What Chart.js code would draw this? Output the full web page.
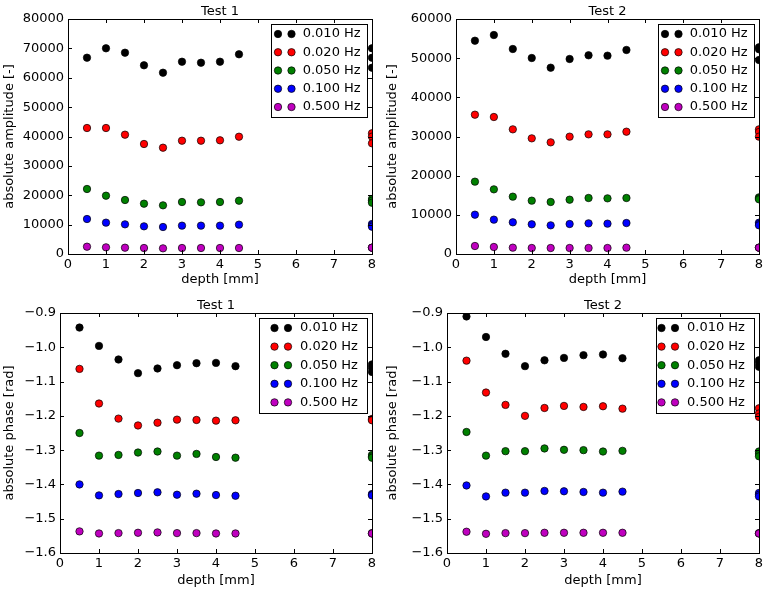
<!DOCTYPE html>
<html><head><meta charset="utf-8">
<script src="https://cdn.jsdelivr.net/npm/chart.js@4/dist/chart.umd.min.js"></script>
<style>
html,body{margin:0;padding:0;background:#fff;width:770px;height:594px;overflow:hidden}
canvas{position:absolute;left:0;top:0}
</style></head>
<body>
<canvas id="c1" width="770" height="594"></canvas>
<canvas id="c2" width="770" height="594"></canvas>
<canvas id="c3" width="770" height="594"></canvas>
<canvas id="c4" width="770" height="594"></canvas>
<script>
// ---------- data ----------
const depths = [0.5, 1, 1.5, 2, 2.5, 3, 3.5, 4, 4.5, 8, 8, 8];
const freqLabels = ['0.010 Hz', '0.020 Hz', '0.050 Hz', '0.100 Hz', '0.500 Hz'];
const freqColors = ['#000000', '#ff0000', '#008000', '#0000ff', '#bf00bf'];

const xTicks = [0, 1, 2, 3, 4, 5, 6, 7, 8];
const ampTicks1 = [0, 10000, 20000, 30000, 40000, 50000, 60000, 70000, 80000];
const ampTicks2 = [0, 10000, 20000, 30000, 40000, 50000, 60000];
const phaseTicks = [-1.6, -1.5, -1.4, -1.3, -1.2, -1.1, -1.0, -0.9];

// amplitude, Test 1
const amp1_f010 = [66830, 70020, 68530, 64240, 61720, 65460, 65120, 65460, 67980, 70020, 66830, 63420];
const amp1_f020 = [42890, 42890, 40620, 37450, 36190, 38570, 38570, 38700, 39930, 41090, 39950, 37680];
const amp1_f050 = [22130, 19850, 18380, 17130, 16570, 17700, 17590, 17700, 18150, 18720, 18150, 17460];
const amp1_f100 = [11910, 10670, 10100, 9420, 9190, 9650, 9650, 9650, 9990, 10210, 9770, 9300];
const amp1_f500 = [2490, 2270, 2150, 2040, 1930, 2040, 2040, 2040, 2040, 2150, 2150, 2150];

// amplitude, Test 2
const amp2_f010 = [54460, 55910, 52340, 50040, 47570, 49790, 50730, 50640, 52090, 52770, 52260, 49530];
const amp2_f020 = [35570, 34980, 31830, 29530, 28510, 29960, 30550, 30550, 31230, 31830, 31150, 29960];
const amp2_f050 = [18470, 16510, 14640, 13620, 13280, 13870, 14300, 14210, 14300, 14470, 14200, 13960];
const amp2_f100 = [10040, 8770, 8090, 7580, 7320, 7660, 7830, 7750, 7910, 7990, 7660, 7320];
const amp2_f500 = [2040, 1790, 1620, 1530, 1530, 1530, 1530, 1530, 1620, 1620, 1620, 1620];

// phase, Test 1
const ph1_f010 = [-0.9425, -0.996, -1.0356, -1.0755, -1.0618, -1.0522, -1.0464, -1.0455, -1.0551, -1.050, -1.060, -1.072];
const ph1_f020 = [-1.063, -1.164, -1.208, -1.228, -1.220, -1.211, -1.212, -1.214, -1.213, -1.209, -1.211, -1.213];
const ph1_f050 = [-1.250, -1.316, -1.314, -1.307, -1.304, -1.316, -1.311, -1.320, -1.322, -1.314, -1.318, -1.322];
const ph1_f100 = [-1.400, -1.432, -1.428, -1.425, -1.423, -1.430, -1.427, -1.431, -1.433, -1.428, -1.430, -1.432];
const ph1_f500 = [-1.537, -1.543, -1.542, -1.541, -1.540, -1.542, -1.542, -1.543, -1.543, -1.542, -1.543, -1.543];

// phase, Test 2
const ph2_f010 = [-0.910, -0.970, -1.019, -1.055, -1.038, -1.031, -1.023, -1.021, -1.032, -1.038, -1.047, -1.057];
const ph2_f020 = [-1.039, -1.132, -1.168, -1.200, -1.177, -1.171, -1.174, -1.172, -1.179, -1.178, -1.193, -1.203];
const ph2_f050 = [-1.247, -1.316, -1.303, -1.303, -1.295, -1.299, -1.300, -1.304, -1.302, -1.304, -1.311, -1.318];
const ph2_f100 = [-1.403, -1.435, -1.424, -1.424, -1.419, -1.420, -1.422, -1.424, -1.421, -1.425, -1.430, -1.435];
const ph2_f500 = [-1.538, -1.544, -1.542, -1.542, -1.541, -1.541, -1.541, -1.541, -1.541, -1.542, -1.543, -1.543];

// ---------- rendering ----------
const FAM = "'DejaVu Sans', sans-serif";
const FONT = {family: FAM, size: 13, lineHeight: 1.2};
const fmtAmp = v => String(Math.round(v));
const fmtPhase = v => Number(v).toFixed(1).replace('-', '\u2212');

const mplPlugin = {
  id: 'mpl',
  afterDraw(chart, args, opts) {
    const ctx = chart.ctx, a = chart.chartArea;
    const xs = chart.scales.x, ys = chart.scales.y;
    const L = Math.round(a.left), T = Math.round(a.top), R = Math.round(a.right), B = Math.round(a.bottom);
    ctx.save();
    ctx.strokeStyle = '#000';
    ctx.lineWidth = 1;
    ctx.beginPath();
    xs.ticks.forEach(t => {
      const px = Math.round(xs.getPixelForValue(t.value)) + 0.5;
      ctx.moveTo(px, B); ctx.lineTo(px, B - 4);
      ctx.moveTo(px, T); ctx.lineTo(px, T + 4);
    });
    ys.ticks.forEach(t => {
      const py = Math.round(ys.getPixelForValue(t.value)) + 0.5;
      ctx.moveTo(L, py); ctx.lineTo(L + 4, py);
      ctx.moveTo(R, py); ctx.lineTo(R - 4, py);
    });
    ctx.stroke();
    ctx.strokeRect(L + 0.5, T + 0.5, R - L, B - T);

    // title
    ctx.fillStyle = '#000';
    ctx.font = '13px ' + FAM;
    ctx.textAlign = 'center';
    ctx.textBaseline = 'middle';
    ctx.fillText(opts.title, (a.left + a.right) / 2, a.top - 7.5);

    // legend (two markers per entry)
    const lg = opts.legend;
    const right = R - 5, top = T + 5;
    ctx.fillStyle = '#fff';
    ctx.fillRect(lg.left, top, right - lg.left, lg.h);
    ctx.strokeStyle = '#000';
    ctx.lineWidth = 1;
    ctx.strokeRect(Math.round(lg.left) + 0.5, top + 0.5, Math.round(right - lg.left), lg.h);
    chart.data.datasets.forEach((ds, i) => {
      const cy = top + 10 + i * lg.step;
      [lg.m1, lg.m2].forEach(off => {
        ctx.beginPath();
        ctx.arc(right + off, cy, 3.7, 0, Math.PI * 2);
        ctx.fillStyle = ds.backgroundColor;
        ctx.fill();
        ctx.lineWidth = 0.7;
        ctx.strokeStyle = '#000';
        ctx.stroke();
      });
      ctx.fillStyle = '#000';
      ctx.textAlign = 'left';
      ctx.textBaseline = 'middle';
      ctx.fillText(ds.label, right + lg.t, cy);
    });
    ctx.restore();
  }
};

function makeChart(id, p) {
  const datasets = p.series.map((vals, i) => ({
    label: freqLabels[i],
    data: depths.map((d, j) => ({x: d, y: vals[j]})),
    backgroundColor: freqColors[i],
    borderColor: '#000',
    borderWidth: 0.7,
    pointRadius: 3.7,
    pointHoverRadius: 3.7,
    showLine: false,
    clip: 0
  }));
  const yT = p.yTicks;
  return new Chart(document.getElementById(id), {
    type: 'scatter',
    data: {datasets},
    plugins: [mplPlugin],
    options: {
      responsive: false,
      animation: false,
      events: [],
      layout: {padding: {left: p.padL, top: p.T, right: 770 - p.R, bottom: p.padB}},
      plugins: {
        legend: {display: false},
        tooltip: {enabled: false},
        mpl: {title: p.title, legend: p.legend}
      },
      scales: {
        x: {
          type: 'linear', min: xTicks[0], max: xTicks[xTicks.length - 1],
          afterBuildTicks: s => { s.ticks = xTicks.map(v => ({value: v})); },
          afterFit: s => { s.height = (594 - p.padB) - p.B; },
          grid: {display: false, drawTicks: false},
          border: {display: false},
          ticks: {color: '#000', font: FONT, padding: 3, maxRotation: 0, autoSkip: false, callback: v => String(v)},
          title: {display: true, text: 'depth [mm]', color: '#000', font: FONT, padding: {top: 0, bottom: p.xtPad}}
        },
        y: {
          type: 'linear', min: Math.min(...yT), max: Math.max(...yT),
          afterBuildTicks: s => { s.ticks = yT.map(v => ({value: v})); },
          afterFit: s => { s.width = p.L - p.padL; },
          grid: {display: false, drawTicks: false},
          border: {display: false},
          ticks: {color: '#000', font: FONT, padding: 4, autoSkip: false, callback: p.fmt},
          title: {display: true, text: p.ytitle, color: '#000', font: FONT, padding: {top: p.ytPad, bottom: 0}}
        }
      }
    }
  });
}

const legUp = {h: 93, step: 18.25, m1: -89, m2: -75.5, t: -64.3};
const legLo = {h: 95, step: 18.6, m1: -92.5, m2: -79, t: -67};

makeChart('c1', {title: 'Test 1', series: [amp1_f010, amp1_f020, amp1_f050, amp1_f100, amp1_f500],
  yTicks: ampTicks1, fmt: fmtAmp, ytitle: 'absolute amplitude [-]',
  padL: 0, L: 68, T: 19, R: 372, B: 254, padB: 297, xtPad: 10, ytPad: 2,
  legend: Object.assign({left: 271}, legUp)});
makeChart('c2', {title: 'Test 2', series: [amp2_f010, amp2_f020, amp2_f050, amp2_f100, amp2_f500],
  yTicks: ampTicks2, fmt: fmtAmp, ytitle: 'absolute amplitude [-]',
  padL: 385, L: 456, T: 19, R: 759, B: 254, padB: 297, xtPad: 10, ytPad: 0,
  legend: Object.assign({left: 658}, legUp)});
makeChart('c3', {title: 'Test 1', series: [ph1_f010, ph1_f020, ph1_f050, ph1_f100, ph1_f500],
  yTicks: phaseTicks, fmt: fmtPhase, ytitle: 'absolute phase [rad]',
  padL: 0, L: 60, T: 313, R: 372, B: 553, padB: 0, xtPad: 6, ytPad: 2,
  legend: Object.assign({left: 259}, legLo)});
makeChart('c4', {title: 'Test 2', series: [ph2_f010, ph2_f020, ph2_f050, ph2_f100, ph2_f500],
  yTicks: phaseTicks, fmt: fmtPhase, ytitle: 'absolute phase [rad]',
  padL: 385, L: 447, T: 313, R: 759, B: 553, padB: 0, xtPad: 6, ytPad: 0,
  legend: Object.assign({left: 656}, legLo)});
</script>
</body></html>
